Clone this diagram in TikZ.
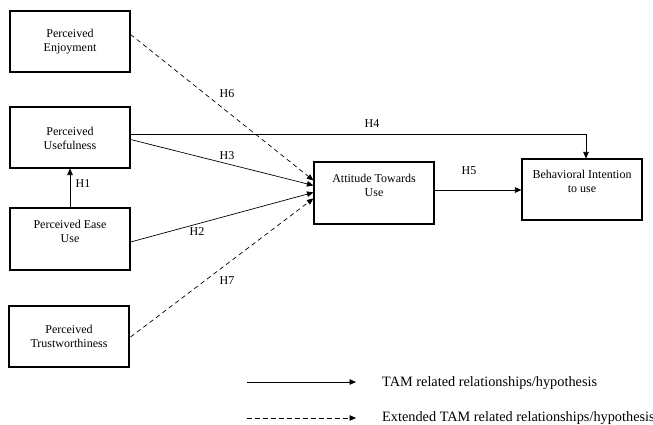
\documentclass[tikz,border=0pt]{standalone}
\usepackage{fontspec}
\setmainfont{Liberation Serif}
\usetikzlibrary{arrows.meta,calc}
\begin{document}
\begin{tikzpicture}[x=1pt,y=-1pt,
  box/.style={draw,line width=1.1pt,minimum width=120pt,minimum height=61pt,inner sep=0pt},
  txt/.style={font=\fontsize{12}{14}\selectfont,align=center,inner sep=0pt},
  lab/.style={font=\fontsize{12}{14}\selectfont,inner sep=0pt},
  leg/.style={font=\fontsize{14.3}{16}\selectfont,inner sep=0pt},
  rel/.style={line width=0.7pt,-{Triangle[length=6.5pt,width=5.5pt]}},
  ext/.style={rel,dash pattern=on 4.5pt off 3.5pt}]
\useasboundingbox (0,0) rectangle (653,424);
% boxes
\node[box] (enj) at (70,41.5) {};
\node[box] (use) at (70,137.5) {};
\node[box,minimum height=62pt] (ease) at (70,239) {};
\node[box] (trust) at (69,336.5) {};
\node[box,minimum height=62pt] (att) at (374,193) {};
\node[box] (bi) at (582,189.5) {};
% texts
\node[txt] (tenj) at (70,42) {Perceived\\Enjoyment};
\node[txt] (tuse) at (70,138.5) {Perceived\\Usefulness};
\node[txt] (tease) at (70,231.5) {Perceived Ease\\Use};
\node[txt] (ttrust) at (69,336.5) {Perceived\\Trustworthiness};
\node[txt] (tatt) at (374,185.5) {Attitude Towards\\Use};
\node[txt] (tbi) at (582,181) {Behavioral Intention\\to use};
% connectors
\draw[ext] ($(enj.north east)+(0,24)$) -- ($(att.north west)+(0,19)$);
\draw[rel] ($(use.east)+(0,2)$) -- ($(att.north west)+(0,24)$);
\draw[rel] ($(use.east)+(0,-3.5)$) -| ($(bi.north)+(4,0)$);
\draw[rel] (ease.north) -- (use.south);
\draw[rel] ($(ease.east)+(0,3)$) -- ($(att.north west)+(0,31)$);
\draw[ext] ($(trust.east)+(1,0.5)$) -- ($(att.north west)+(0,37)$);
\draw[rel] ($(att.east)+(0,-3)$) -- ($(bi.west)+(0,0.5)$);
% labels
\node[lab] (h6) at (227,94) {H6};
\node[lab] (h3) at (227,156) {H3};
\node[lab] (h1) at (83,184) {H1};
\node[lab] (h4) at (372,124) {H4};
\node[lab] (h5) at (469,171) {H5};
\node[lab] (h2) at (197,232) {H2};
\node[lab] (h7) at (227,281) {H7};
% legend
\coordinate (l1a) at (247,382);
\coordinate (l1b) at (356,382);
\coordinate (l2a) at (247,418);
\coordinate (l2b) at (356,418);
\draw[rel] (l1a) -- (l1b);
\draw[ext] (l2a) -- (l2b);
\node[leg,anchor=west] (lt1) at (382,383) {TAM related relationships/hypothesis};
\node[leg,anchor=west] (lt2) at (382,418) {Extended TAM related relationships/hypothesis};
\end{tikzpicture}
\end{document}
